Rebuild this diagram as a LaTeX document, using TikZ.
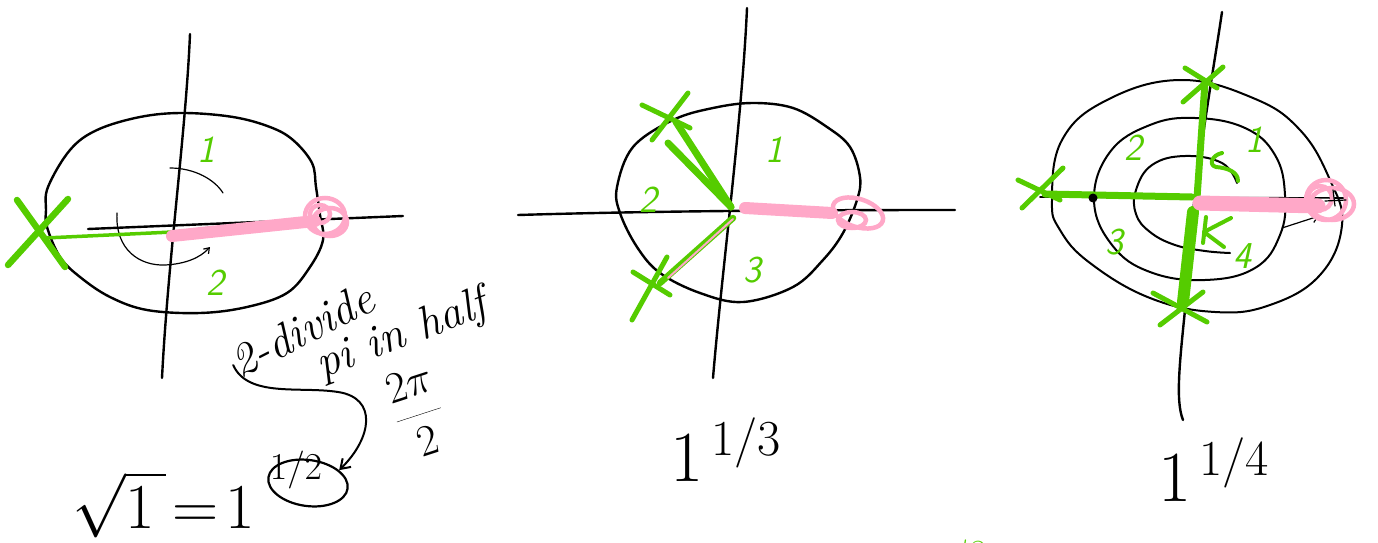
\RequirePackage{fix-cm}
\documentclass[tikz,border=0pt]{standalone}
\usepackage{fontspec}
\usetikzlibrary{arrows.meta,shapes.geometric}
\definecolor{hgreen}{RGB}{85,204,0}
\definecolor{hpink}{RGB}{255,168,200}
\tikzset{
  ink/.style={line width=2.4pt, line cap=round, line join=round},
  thinink/.style={line width=1.2pt, line cap=round, line join=round},
  gstroke/.style={draw=hgreen, line width=5pt, line cap=round, line join=round},
  pstroke/.style={draw=hpink, line width=12pt, line cap=round},
  pblob/.style={draw=hpink, line width=4.5pt},
  glabel/.style={text=hgreen, font=\fontsize{38}{40}\selectfont\sffamily\itshape, inner sep=0pt},
  hand/.style={font=\fontsize{46}{50}\selectfont\itshape, inner sep=0pt},
  big/.style={font=\fontsize{72}{76}\selectfont, inner sep=0pt},
  barb/.style={-{Straight Barb[length=9pt,width=12pt]}},
}
\begin{document}
\begin{tikzpicture}[x=1pt,y=-1pt]
\useasboundingbox (0,0) rectangle (1378,543);
\clip (0,0) rectangle (1378,543);

% ================= Panel 1 =================
\draw[ink] plot[smooth cycle, tension=0.6] coordinates {(46,210) (48,187) (70,150) (97,130) (140,117) (183,113) (233,117) (270,127) (293,140) (312,163) (316,187) (320,215) (323,240) (310,267) (287,293) (247,307) (200,313) (147,310) (110,297) (80,277) (60,257) (47,227)};
\draw[ink] (190,34) .. controls (186,130) and (168,260) .. (162,378);
\draw[ink] (88,229) -- (403,216);
\draw[thinink] (170,168) .. controls (195,168) and (215,180) .. (223,193);
\draw[thinink, -{Straight Barb[length=5pt,width=7pt]}] (117,213) .. controls (115,250) and (140,266) .. (165,265) .. controls (185,264) and (200,258) .. (210,247);
\draw[hgreen, line width=3.5pt, line cap=round] (45,238) -- (300,226);
\draw[pstroke] (172,236) -- (315,221);
\draw[pblob] (325,216) circle [x radius=20, y radius=18];
\draw[pblob] (330,222) circle [x radius=17, y radius=14];
\draw[pblob] (320,214) circle [x radius=10, y radius=9];
\draw[gstroke, line width=6.5pt] (17,200) -- (65,267);
\draw[gstroke, line width=6.5pt] (68,199) -- (8,265);
\node[glabel] (p1a) at (206,150) {1};
\node[glabel] (p1b) at (215,283) {2};

\node[hand, rotate=27] (div) at (302,330) {2-divide};
\node[hand, rotate=21] (half) at (402,336) {pi in half};
\node[font=\fontsize{44}{48}\selectfont, inner sep=0pt, rotate=18] (frac) at (418,412) {$\displaystyle\frac{2\pi}{2}$};
\node[big, font=\fontsize{64}{68}\selectfont, anchor=base west] (lhs) at (72,528) {$\sqrt{1\,}\!=\!1$};
\node[font=\fontsize{38}{40}\selectfont, inner sep=0pt] (sup) at (296,470) {$1/2$};
\node[draw, ellipse, line width=2.2pt, minimum width=80pt, minimum height=46pt, rotate=-8] (circ) at (308,483) {};
\draw[ink, line width=2pt, barb] (div.west) .. controls (248,398) and (300,386) .. (338,392) .. controls (378,398) and (372,438) .. (circ.north east);

% ================= Panel 2 =================
\draw[ink] plot[smooth cycle, tension=0.6] coordinates {(617,187) (633,147) (673,120) (713,108) (753,103) (793,108) (827,127) (850,147) (860,177) (857,200) (843,233) (823,260) (793,287) (743,302) (700,293) (660,273) (637,247) (620,213)};
\draw[ink] (747,8) .. controls (742,120) and (722,270) .. (713,378);
\draw[ink] (518,215) .. controls (650,211) and (800,210) .. (955,210);
\draw[gstroke, line width=7pt] (668,143) -- (731,207);
\draw[gstroke, line width=7pt] (676,122) -- (731,207);
\draw[gstroke, line width=6.5pt] (733,218) -- (660,283);
\draw[hpink, line width=2pt, line cap=round] (733,219) -- (668,278);
\draw[gstroke] (642,105) -- (690,128);
\draw[gstroke] (688,93) -- (652,140);
\draw[gstroke] (632,320) -- (667,257);
\draw[gstroke] (633,272) -- (670,295);
\draw[pstroke] (745,208) -- (832,213);
\draw[pblob, rotate around={-18:(858,213)}] (858,213) ellipse [x radius=26, y radius=14];
\draw[pblob] (852,220) ellipse [x radius=14, y radius=8];
\node[glabel] (p2a) at (774,150) {1};
\node[glabel] (p2b) at (648,200) {2};
\node[glabel] (p2c) at (752,270) {3};
\node[big] (r3) at (726,450) {$1^{\,1/3}$};

% ================= Panel 3 =================
\draw[ink, line width=2pt] plot[smooth cycle, tension=0.7] coordinates {(1052,200) (1062,140) (1107,100) (1180,80) (1253,98) (1300,130) (1330,180) (1342,225) (1320,275) (1270,305) (1215,312) (1150,298) (1090,263) (1060,230)};
\draw[ink, line width=2pt] plot[smooth cycle, tension=0.7] coordinates {(1094,200) (1110,152) (1150,125) (1195,118) (1245,128) (1275,155) (1285,195) (1280,235) (1255,268) (1205,280) (1150,272) (1112,245)};
\draw[ink, line width=2pt] plot[smooth, tension=0.7] coordinates {(1237,183) (1222,163) (1185,156) (1152,165) (1136,190) (1136,214) (1150,232) (1175,245) (1205,251) (1230,253)};
\draw[ink] (1222,12) .. controls (1212,80) and (1190,200) .. (1186,300) .. controls (1180,360) and (1175,400) .. (1183,420);
\draw[ink, line width=1.6pt] (1040,197) -- (1345,198);
\draw[thinink, -{Straight Barb[length=6pt,width=9pt]}] (1282,228) -- (1319,216);
\draw[hgreen, line width=7pt, line cap=round] (1205,82) -- (1197,198);
\draw[hgreen, line width=12pt, line cap=round] (1193,212) -- (1183,302);
\draw[hgreen, line width=7pt, line cap=round] (1045,194) -- (1192,197);
\fill (1093,198) circle [radius=4.5];
\draw[pstroke, line width=15pt] (1200,203) -- (1318,206);
\draw[pblob] (1326,200) circle [radius=20];
\draw[pblob] (1332,204) circle [x radius=22, y radius=16];
\draw[pblob] (1320,198) circle [radius=12];
\draw[thinink] (1333,190) -- (1335,206);
\draw[thinink] (1325,201) -- (1346,200);
\draw[gstroke] (1185,68) -- (1217,88);
\draw[gstroke] (1223,67) -- (1183,102);
\draw[gstroke] (1153,293) -- (1207,322);
\draw[gstroke] (1203,292) -- (1160,325);
\draw[gstroke] (1018,180) -- (1060,200);
\draw[gstroke] (1063,168) -- (1022,208);
\draw[gstroke, line width=4pt] (1222,153) .. controls (1212,155) and (1208,165) .. (1216,167) .. controls (1228,168) and (1238,172) .. (1238,181);
\draw[gstroke, line width=4pt] (1231,218) -- (1204,232) -- (1224,247);
\draw[gstroke, line width=4pt] (1206,217) -- (1203,243);
\node[glabel] (p3a) at (1254,140) {1};
\node[glabel] (p3b) at (1133,148) {2};
\node[glabel] (p3c) at (1114,242) {3};
\node[glabel] (p3d) at (1242,256) {4};
\node[big] (r4) at (1214,470) {$1^{\,1/4}$};

% cropped green note at the bottom edge
\node[glabel, rotate=10] (note) at (960,560) {$\pi/8$};
\end{tikzpicture}
\end{document}
